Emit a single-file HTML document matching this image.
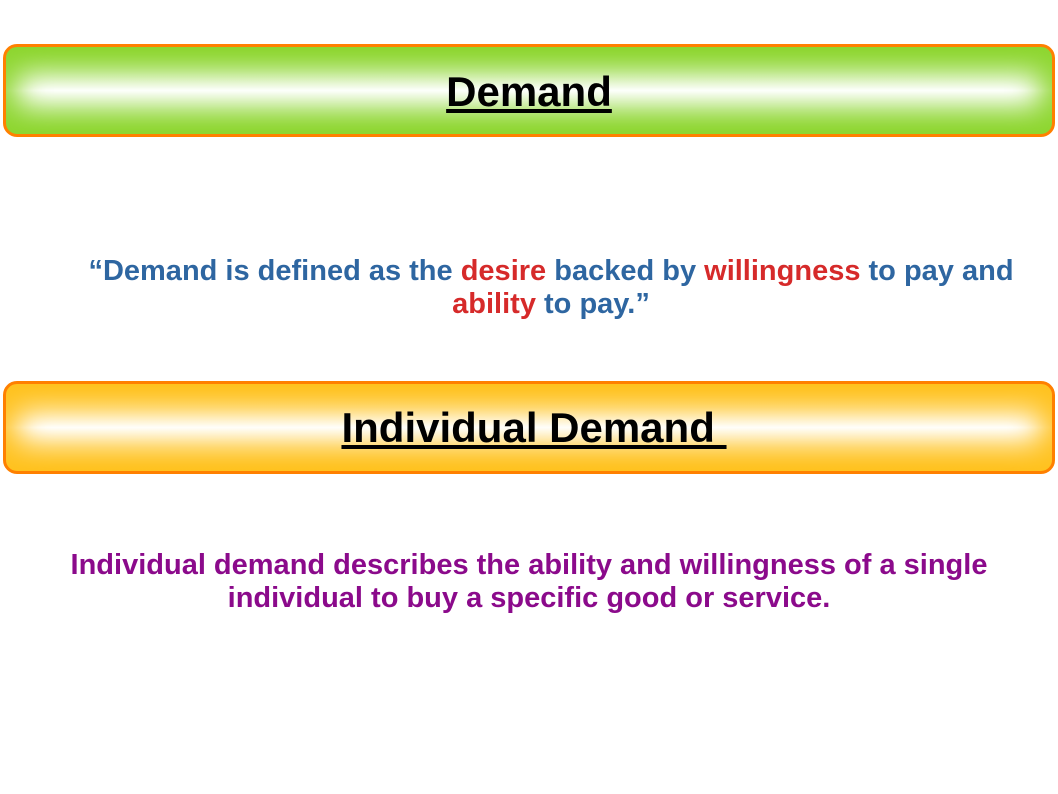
<!DOCTYPE html>
<html><head><meta charset="utf-8"><style>
body{margin:0;width:1058px;height:794px;background:#fff;position:relative;font-family:"Liberation Sans",sans-serif;overflow:hidden}
.box{position:absolute;left:3px;width:1046px;height:87px;border:3px solid #ff8000;border-radius:14px;}
.g{background:linear-gradient(#8ed630 0%,#c9ec9e 28%,#fff 50%,#c9ec9e 72%,#8ed630 100%);box-shadow:inset 0 0 30px 12px #8ed630;}
.y{background:linear-gradient(#ffc21f 0%,#ffe08c 28%,#fff 50%,#ffe08c 72%,#ffc21f 100%);box-shadow:inset 0 0 30px 12px #ffc21f;}
.t{position:absolute;left:0;width:100%;text-align:center;font-weight:bold;text-decoration:underline;color:#000;font-size:42px;line-height:48px}
.p{position:absolute;left:0;width:1058px;text-align:center;font-weight:bold;font-size:29px;line-height:33px;white-space:nowrap}
.b{color:#2e66a1}.r{color:#d62a2a}
</style></head><body>
<div class="box g" style="top:44px"><div class="t" style="top:21px">Demand</div></div>
<div class="p b" style="top:255px;left:22px">“Demand is defined as the <span class="r">desire</span> backed by <span class="r">willingness</span> to pay and<br><span class="r">ability</span> to pay.”</div>
<div class="box y" style="top:381px"><div class="t" style="top:20px;left:5px">Individual Demand&nbsp;</div></div>
<div class="p" style="top:549px;color:#8b0a8b">Individual demand describes the ability and willingness of a single<br>individual to buy a specific good or service.</div>
</body></html>
